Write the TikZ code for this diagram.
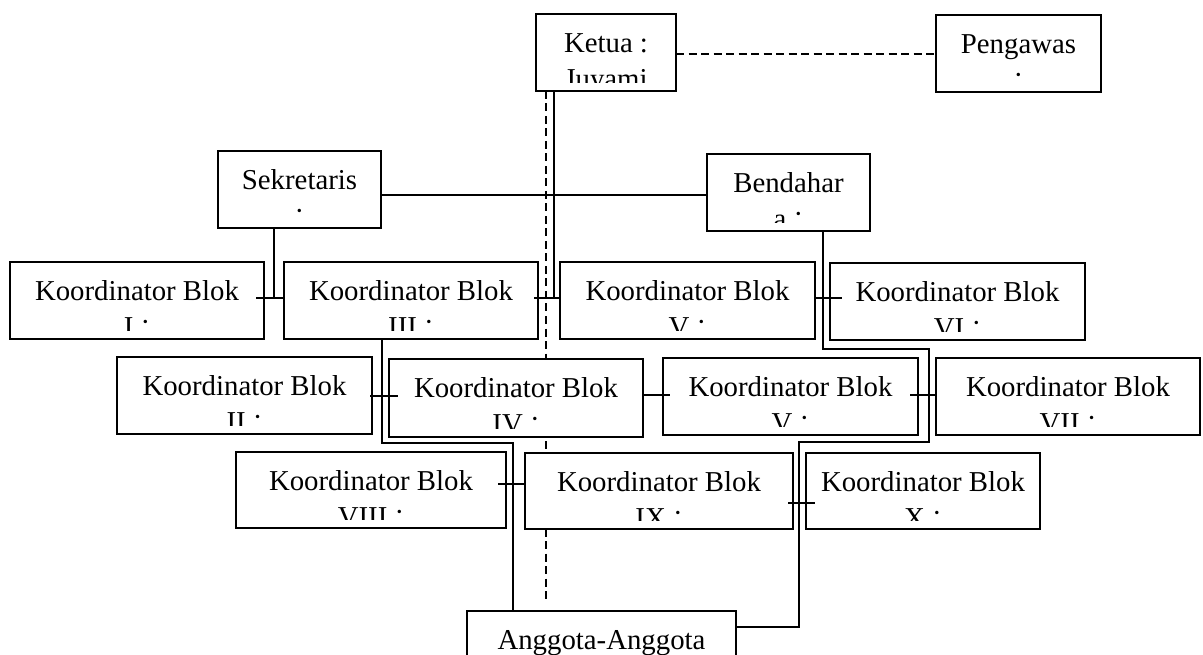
\documentclass[tikz,border=0pt]{standalone}
\usepackage{fontspec}
\setmainfont{Liberation Serif}
\usetikzlibrary{calc}
\tikzset{
  orgbox/.style={draw, line width=2pt, fill=white, anchor=north west, inner sep=0pt, outer sep=0pt},
  txt/.style={anchor=base, inner sep=0pt, font=\fontsize{28.8pt}{34pt}\selectfont},
  conn/.style={line width=2pt},
  dconn/.style={line width=2pt, dash pattern=on 8pt off 4.5pt},
}
\newcommand\dotmark{\raisebox{5pt}{·}}
\newcommand\orgbox[7]{%
  \node[orgbox, minimum width={(#4-#2)*1pt}, minimum height={(#5-#3)*1pt},
    path picture={%
      \clip (path picture bounding box.north west) rectangle ([yshift=8.5pt]path picture bounding box.south east);
      \node[txt] (#1-l1) at ([yshift=-38.5pt]path picture bounding box.north) {#6};
      \node[txt] (#1-l2) at ([yshift=-74.5pt]path picture bounding box.north) {#7};
    }] (#1) at (#2,#3) {};%
}
\begin{document}
\begin{tikzpicture}[x=1pt,y=-1pt]
\useasboundingbox (0,0) rectangle (1203,655);
\clip (0,0) rectangle (1203,655);
\coordinate (dEnd) at (546,600);
\orgbox{ketua}{536}{14}{676}{91}{Ketua :}{Juyami}
\draw[dconn] (dEnd |- ketua.south) -- (dEnd);
\orgbox{pengawas}{936}{15}{1101}{92}{Pengawas}{\dotmark}
\orgbox{sek}{218}{151}{381}{228}{Sekretaris}{\dotmark}
\orgbox{bend}{707}{154}{870}{231}{Bendahar}{a \dotmark}
\orgbox{b1}{10}{262}{264}{339}{Koordinator Blok}{I \dotmark}
\orgbox{b3}{284}{262}{538}{339}{Koordinator Blok}{III \dotmark}
\orgbox{b5a}{560}{262}{815}{339}{Koordinator Blok}{V \dotmark}
\orgbox{b6}{830}{263}{1085}{340}{Koordinator Blok}{VI \dotmark}
\orgbox{b2}{117}{357}{372}{434}{Koordinator Blok}{II \dotmark}
\orgbox{b4}{389}{359}{643}{437}{Koordinator Blok}{IV \dotmark}
\orgbox{b5b}{663}{358}{918}{435}{Koordinator Blok}{V \dotmark}
\orgbox{b7}{936}{358}{1200}{435}{Koordinator Blok}{VII \dotmark}
\orgbox{b8}{236}{452}{506}{528}{Koordinator Blok}{VIII \dotmark}
\orgbox{b9}{525}{453}{793}{529}{Koordinator Blok}{IX \dotmark}
\orgbox{b10}{806}{453}{1040}{529}{Koordinator Blok}{X \dotmark}
\orgbox{ang}{467}{611}{736}{700}{Anggota-Anggota}{}
% Ketua - Pengawas
\draw[dconn] ([yshift=-2pt]ketua.east) -- ([yshift=-2pt]ketua.east -| pengawas.west);
% Sekretaris - Bendahara
\coordinate (sb) at ($(bend.west)+(0,2.5)$);
\draw[conn] (sb -| sek.east) -- (sb);
% row 1 ticks
\coordinate (t13) at ($(b1.east)+(-8,-2.5)$);
\draw[conn] (t13) -- ($(b3.west)+(0,-2.5)$);
\draw[conn] ([xshift=56pt]sek.south west) -- ([xshift=56pt]sek.south west |- t13);
\coordinate (t35) at ($(b3.east)+(-4,-2.5)$);
\draw[conn] (t35) -- ($(b5a.west)+(0,-2.5)$);
\draw[conn] ([xshift=18pt]ketua.south west) -- ([xshift=18pt]ketua.south west |- t35);
\draw[conn] ($(b5a.east)+(0,-2.5)$) -- ++(27,0);
% Bendahara route to Anggota
\coordinate (p1) at (823,349);
\coordinate (p2) at (929,442);
\coordinate (p3) at (799,627);
\draw[conn] (p1 |- bend.south) -- (p1) -| (p2) -| (p3) -- (p3 -| ang.east);
% Blok III route to Anggota
\coordinate (q1) at (382,443);
\coordinate (q2) at (513,443);
\draw[conn] (q1 |- b3.south) -- (q1) -- (q2) -- (q2 |- ang.north);
% row 2 ticks
\draw[conn] ($(b2.east)+(-2,0)$) -- ++(28,0);
\draw[conn] ($(b4.east)+(-1,-3)$) -- ++(28,0);
\draw[conn] ($(b5b.east)+(-8,-1.5)$) -- ++(26,0);
% row 3 ticks
\draw[conn] ($(b8.east)+(-8,-6)$) -- ++(27,0);
\draw[conn] ($(b9.east)+(-5,12)$) -- ++(27,0);
\end{tikzpicture}
\end{document}
